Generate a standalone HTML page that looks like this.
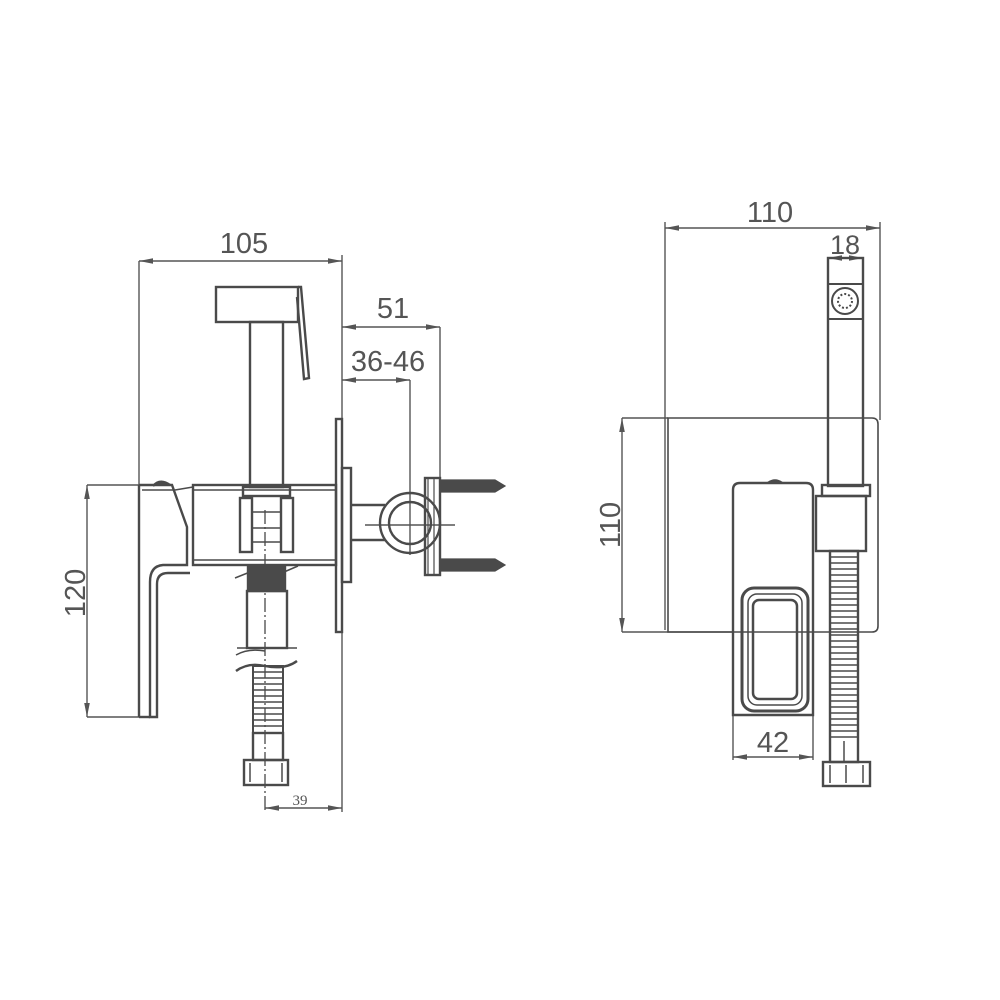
<!DOCTYPE html>
<html><head><style>html,body{margin:0;padding:0;background:#fff}svg{display:block}</style></head>
<body>
<svg width="1000" height="1000" viewBox="0 0 1000 1000" xmlns="http://www.w3.org/2000/svg">
<defs>
<marker id="a" viewBox="0 0 10 6" refX="10" refY="3" markerWidth="10" markerHeight="6" orient="auto-start-reverse"><path d="M0,1 L10,3 L0,5" fill="#555"/></marker>
</defs>
<g stroke="#4a4a4a" fill="none" stroke-width="2.4">
<g stroke-width="1.4" stroke="#555">
<line x1="139" y1="261" x2="342" y2="261" marker-start="url(#a)" marker-end="url(#a)"/>
<line x1="139" y1="261" x2="139" y2="485"/>
<line x1="342" y1="255" x2="342" y2="812"/>
<line x1="342" y1="327" x2="440" y2="327" marker-start="url(#a)" marker-end="url(#a)"/>
<line x1="440" y1="327" x2="440" y2="480"/>
<line x1="342" y1="380" x2="410" y2="380" marker-start="url(#a)" marker-end="url(#a)"/>
<line x1="410" y1="380" x2="410" y2="555"/>
<line x1="87" y1="485" x2="87" y2="717" marker-start="url(#a)" marker-end="url(#a)"/>
<line x1="87" y1="485" x2="139" y2="485"/>
<line x1="87" y1="717" x2="157" y2="717"/>
<line x1="265" y1="808" x2="342" y2="808" marker-start="url(#a)" marker-end="url(#a)"/>
<line x1="265" y1="510" x2="265" y2="812" stroke-dasharray="14,3,2,3"/>
<line x1="365" y1="525" x2="455" y2="525"/>
</g>
<rect x="216" y="287" width="82" height="35"/>
<path d="M298,287 L301,287 L309,378 L304,379 L297,297"/>
<rect x="250" y="322" width="33" height="165"/>
<rect x="193" y="485" width="143" height="80"/>
<line x1="193" y1="490" x2="336" y2="490" stroke-width="1.5"/>
<line x1="193" y1="560" x2="336" y2="560" stroke-width="1.5"/>
<path d="M139,485 L172,485 L187,527 L187,565 L163,565 Q150,566 150,582 L150,717 L157,717 L157,584 Q157,573 168,573 L190,573"/>
<line x1="139" y1="485" x2="139" y2="717"/>
<line x1="139" y1="717" x2="150" y2="717"/>
<line x1="142" y1="490" x2="175" y2="490" stroke-width="1.5"/>
<path d="M153,486 Q160,478 170,485" fill="#4a4a4a"/>
<line x1="175" y1="490" x2="193" y2="487" stroke-width="1.5"/>
<rect x="243" y="487" width="47" height="9"/>
<rect x="240" y="498" width="12" height="54"/>
<rect x="281" y="498" width="12" height="54"/>
<path d="M252,512 H281 M252,528 H281 M252,542 H281" stroke-width="1.5"/>
<rect x="248" y="567" width="37" height="24" fill="#4a4a4a"/>
<path d="M235,578 L250,572 M284,572 L298,566" stroke-width="1.5"/>
<rect x="247" y="591" width="40" height="57"/>
<path d="M237,648 H297" stroke-width="1.5"/>
<path d="M236,671 Q248,662 265,666 Q285,670 297,661" />
<path d="M236,655 Q248,648 265,651" stroke-width="1.5"/>
<rect x="253" y="666" width="30" height="67" stroke-width="2"/>
<g stroke-width="1.5"><path d="M253,672H283M253,678H283M253,684H283M253,690H283M253,696H283M253,702H283M253,708H283M253,714H283M253,720H283M253,726H283"/></g>
<rect x="253" y="733" width="30" height="27"/>
<rect x="244" y="760" width="44" height="25"/>
<path d="M250,763 V782 M282,763 V782" stroke-width="1.5"/>
<rect x="336" y="419" width="6" height="213"/>
<rect x="342" y="468" width="9" height="114"/>
<path d="M351,505 H385 M351,540 H385"/>
<circle cx="410" cy="523" r="30"/>
<circle cx="410" cy="523" r="21"/>
<rect x="425" y="478" width="15" height="97"/>
<rect x="428" y="478" width="6" height="97" stroke-width="1.2"/>
<g fill="#4a4a4a" stroke-width="1.2">
<path d="M440,480 H495 L505,486 L495,492 H440 Z"/>
<path d="M440,559 H495 L505,565 L495,571 H440 Z"/>
</g>
<g stroke-width="1.4" stroke="#555">
<line x1="665" y1="228" x2="880" y2="228" marker-start="url(#a)" marker-end="url(#a)"/>
<line x1="665" y1="222" x2="665" y2="630"/>
<line x1="880" y1="222" x2="880" y2="420"/>
<line x1="828" y1="258" x2="863" y2="258" marker-start="url(#a)" marker-end="url(#a)"/>
<line x1="622" y1="418" x2="622" y2="632" marker-start="url(#a)" marker-end="url(#a)"/>
<line x1="622" y1="418" x2="668" y2="418"/>
<line x1="622" y1="632" x2="733" y2="632"/>
<line x1="733" y1="757" x2="813" y2="757" marker-start="url(#a)" marker-end="url(#a)"/>
<line x1="733" y1="715" x2="733" y2="760"/>
<line x1="813" y1="715" x2="813" y2="760"/>
</g>
<path d="M668,418 H872 Q878,418 878,424 V626 Q878,632 872,632 H668 Z" stroke-width="1.6"/>
<rect x="828" y="258" width="35" height="228"/>
<rect x="828" y="284" width="35" height="35" stroke-width="2"/>
<circle cx="845" cy="301" r="13" stroke-width="2"/>
<circle cx="845" cy="301" r="7" stroke-width="2" stroke-dasharray="2,2"/>
<rect x="822" y="485" width="48" height="11"/>
<rect x="816" y="496" width="50" height="55"/>
<path d="M740,483 H806 Q813,483 813,490 V715 H733 V490 Q733,483 740,483 Z"/>
<path d="M768,483 Q775,478 782,483" fill="#4a4a4a"/>
<rect x="742" y="588" width="66" height="123" rx="12" stroke-width="3"/>
<rect x="748" y="594" width="54" height="111" rx="9" stroke-width="1.5"/>
<rect x="753" y="600" width="44" height="99" rx="6" stroke-width="2.5"/>
<rect x="830" y="551" width="28" height="211"/>
<g stroke-width="1.5"><path d="M830,557H858M830,563H858M830,569H858M830,575H858M830,581H858M830,587H858M830,593H858M830,599H858M830,605H858M830,611H858M830,617H858M830,623H858M830,629H858M830,635H858M830,641H858M830,647H858M830,653H858M830,659H858M830,665H858M830,671H858M830,677H858M830,683H858M830,689H858M830,695H858M830,701H858M830,707H858M830,713H858M830,719H858M830,725H858M830,731H858M830,737H858"/></g>
<path d="M844,741 V762" stroke-width="1.5"/>
<rect x="823" y="762" width="47" height="24"/>
<path d="M830,765 V783 M863,765 V783 M846,765 V783" stroke-width="1.5"/>
</g>
<g fill="#555" font-family="'Liberation Sans',sans-serif" font-size="29">
<text x="244" y="253" text-anchor="middle">105</text>
<text x="393" y="318" text-anchor="middle">51</text>
<text x="388" y="371" text-anchor="middle">36-46</text>
<text x="770" y="222" text-anchor="middle">110</text>
<text x="845" y="254" text-anchor="middle" font-size="27">18</text>
<text x="773" y="752" text-anchor="middle">42</text>
<text transform="translate(85,593) rotate(-90)" text-anchor="middle">120</text>
<text transform="translate(620,525) rotate(-90)" text-anchor="middle">110</text>
<text x="300" y="805" text-anchor="middle" font-family="'Liberation Serif',serif" font-size="15">39</text>
</g>
</svg>
</body></html>
